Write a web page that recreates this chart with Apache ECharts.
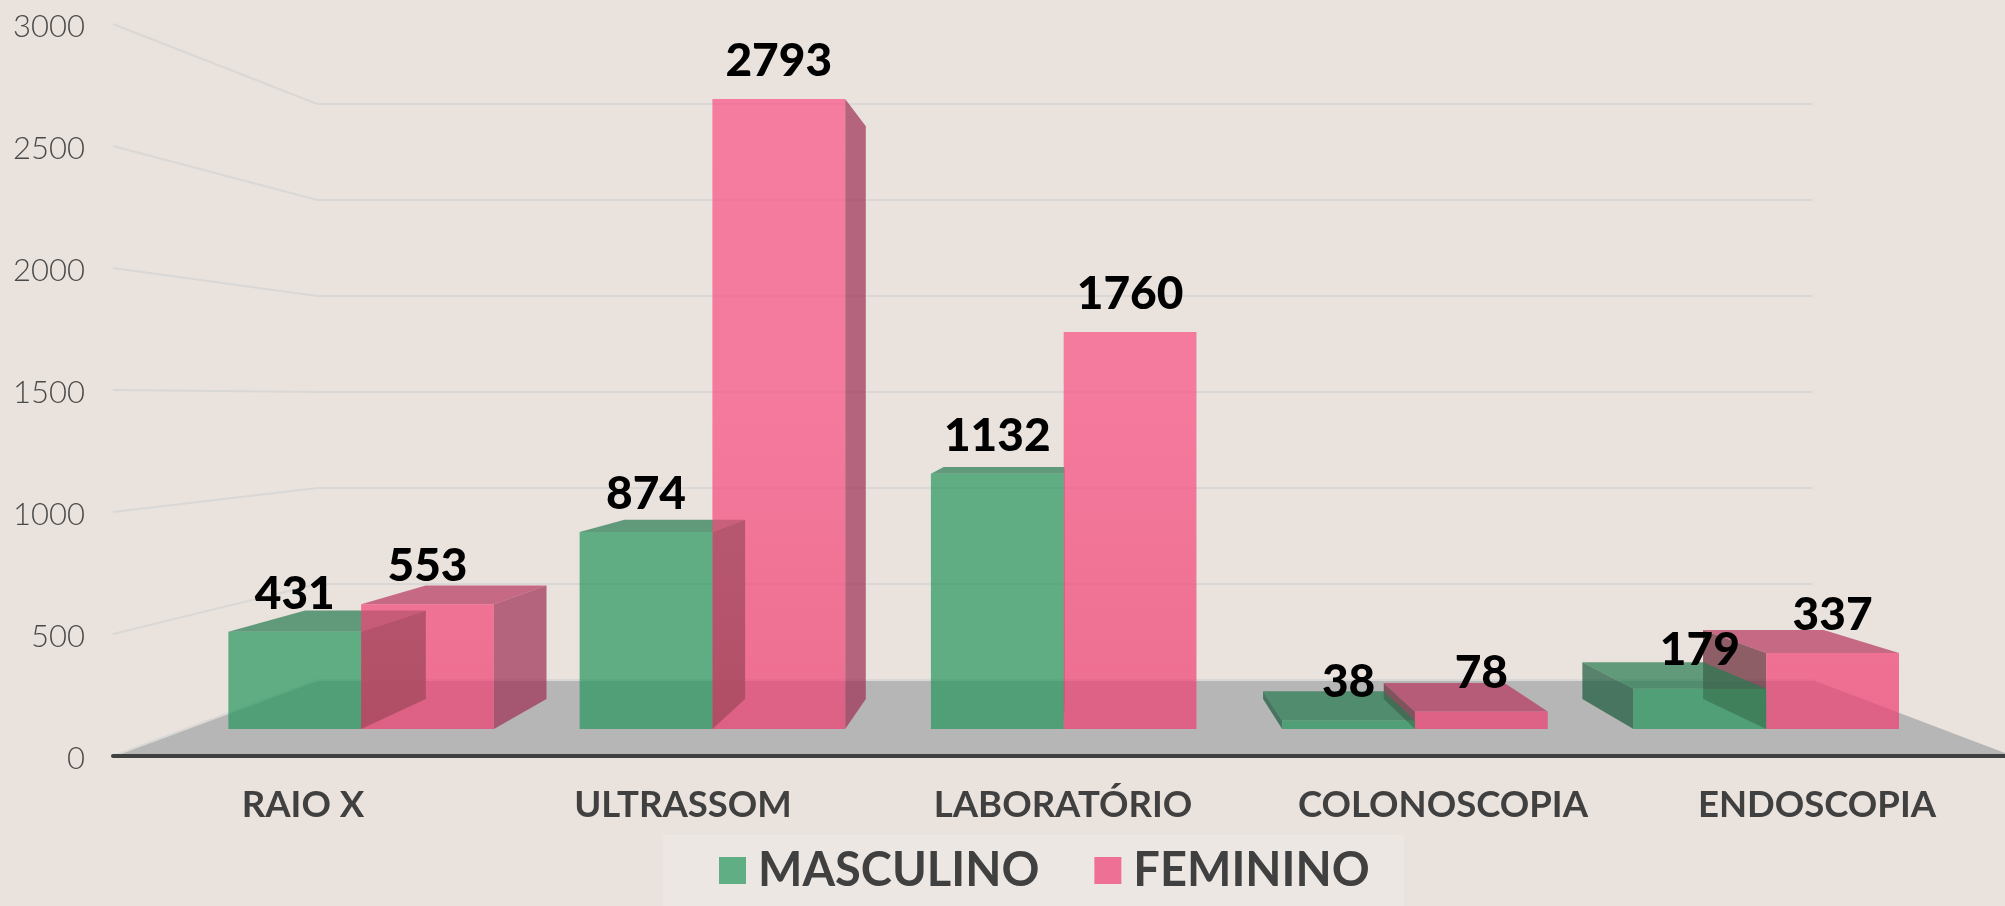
<!DOCTYPE html>
<html>
<head>
<meta charset="utf-8">
<title>Exames por sexo</title>
<style>
html, body { margin: 0; padding: 0; background: #eae2dc; }
#chart { width: 2005px; height: 906px; }
</style>
<script src="https://cdn.jsdelivr.net/npm/echarts@6/dist/echarts.min.js"></script>
</head>
<body>
<div id="chart"></div>
<script>
var categories = ['RAIO X', 'ULTRASSOM', 'LABORATÓRIO', 'COLONOSCOPIA', 'ENDOSCOPIA'];
var masculino = [431, 874, 1132, 38, 179];
var feminino = [553, 2793, 1760, 78, 337];
var ticks = [0, 500, 1000, 1500, 2000, 2500, 3000];

// perspective of the old 3D column chart
var VP = [1072, 399];
var T_BAR_FRONT = 0.9244;
var T_BAR_BACK = 0.8403;
var T_WALL = 0.787;
var BAR_SHARE = 0.378;

var GREEN = {
    front: 'rgba(37,150,93,0.7)',
    top: 'rgba(39,123,81,0.7)',
    sideRight: 'rgba(20,115,70,0.92)',
    sideLeft: 'rgba(25,90,60,0.7)'
};
var PINK = {
    front: 'rgba(240,61,114,0.7)',
    top: 'rgba(183,54,94,0.7)',
    sideRight: 'rgba(158,47,84,0.7)',
    sideLeft: 'rgba(111,49,63,0.75)'
};

function project(p, t) {
    return [VP[0] + (p[0] - VP[0]) * t, VP[1] + (p[1] - VP[1]) * t];
}

function poly(points, fill, z2) {
    return { type: 'polygon', silent: true, z2: z2, shape: { points: points }, style: { fill: fill, stroke: null } };
}

// floor
function renderFloor(params, api) {
    var cs = params.coordSys;
    var l = [cs.x, cs.y + cs.height];
    var r = [cs.x + cs.width, cs.y + cs.height];
    return poly([l, r, project(r, T_WALL), project(l, T_WALL)], '#b6b6b6', 0);
}

// lines on the side wall and back wall
function renderGrid(params, api) {
    var cs = params.coordSys;
    var y = api.coord([0, api.value(1)])[1];
    var l = [cs.x, y];
    var r = [cs.x + cs.width, y];
    return {
        type: 'polyline',
        silent: true,
        z2: 1,
        shape: { points: [l, project(l, T_WALL), project(r, T_WALL)] },
        style: { fill: null, stroke: '#d9d8d6', lineWidth: 2 }
    };
}

function barRender(isPink) {
    var c = isPink ? PINK : GREEN;
    return function (params, api) {
        var i = api.value(0);
        var v = api.value(1);
        var center = api.coord([i, 0]);
        var top = api.coord([i, v]);
        var w = api.size([1, 0])[0] * BAR_SHARE;
        var x0 = isPink ? center[0] : center[0] - w;
        var x1 = isPink ? center[0] + w : center[0];
        var base = center[1];
        var yTop = top[1];
        // outer bar is painted first, the one nearer the middle stays in front
        var z = (center[0] < VP[0]) === isPink ? 20 : 10;
        var children = [];

        var fl = project([x0, base], T_BAR_FRONT), fr = project([x1, base], T_BAR_FRONT);
        var tl = project([x0, yTop], T_BAR_FRONT), tr = project([x1, yTop], T_BAR_FRONT);
        var bfl = project([x0, base], T_BAR_BACK), bfr = project([x1, base], T_BAR_BACK);
        var btl = project([x0, yTop], T_BAR_BACK), btr = project([x1, yTop], T_BAR_BACK);

        if (x1 < VP[0]) {
            children.push(poly([fr, tr, btr, bfr], c.sideRight, z));
        } else if (x0 > VP[0]) {
            children.push(poly([fl, tl, btl, bfl], c.sideLeft, z));
        }
        if (yTop > VP[1]) {
            children.push(poly([tl, tr, btr, btl], c.top, z + 1));
        }
        var front = poly([fl, fr, tr, tl], c.front, z + 2);
        if (isPink) {
            // tall pink bars get lighter towards the top
            front.style.fill = new echarts.graphic.LinearGradient(0, project([0, 24], T_BAR_FRONT)[1], 0, fl[1], [
                { offset: 0, color: 'rgba(250,80,134,0.7)' },
                { offset: 0.5, color: 'rgba(249,78,130,0.7)' },
                { offset: 1, color: 'rgba(238,60,112,0.7)' }
            ], true);
        }
        children.push(front);
        children.push({
            type: 'text',
            silent: true,
            z2: 100,
            style: {
                text: String(v),
                x: (tl[0] + tr[0]) / 2,
                y: tl[1] - 38,
                textAlign: 'center',
                textVerticalAlign: 'middle',
                font: '900 46px Lato',
                fill: '#000000'
            }
        });
        return { type: 'group', children: children };
    };
}

function pairs(values) {
    var out = [];
    for (var i = 0; i < values.length; i++) {
        out.push([i, values[i]]);
    }
    return out;
}

var xData = [];
for (var i = 0; i < categories.length; i++) {
    xData.push(categories[i]);
}
// last label sits a bit left of its slot in the original
xData[4] = { value: categories[4], textStyle: { padding: [0, 12, 0, 0] } };

var chart = echarts.init(document.getElementById('chart'));
chart.setOption({
    animation: false,
    backgroundColor: '#eae2dc',
    grid: { left: 113, width: 1900, top: 24, bottom: 150, containLabel: false, outerBoundsMode: 'none' },
    legend: {
        data: ['MASCULINO', 'FEMININO'],
        left: 663,
        top: 835,
        orient: 'horizontal',
        padding: [12, 34, 12, 56],
        backgroundColor: '#ece7e3',
        icon: 'rect',
        itemWidth: 27,
        itemHeight: 27,
        itemGap: 55,
        selectedMode: false,
        textStyle: { fontFamily: 'Lato', fontWeight: 'bold', fontSize: 47, color: '#404040', padding: [2, 0, 0, 7] }
    },
    xAxis: {
        type: 'category',
        z: 5,
        data: xData,
        axisTick: { show: false },
        axisLine: { lineStyle: { color: '#404040', width: 4 } },
        axisLabel: { interval: 0, margin: 31, fontFamily: 'Lato', fontWeight: 'bold', fontSize: 36.5, color: '#404040' },
        splitLine: { show: false }
    },
    yAxis: {
        type: 'value',
        min: 0,
        max: 3000,
        interval: 500,
        axisLine: { show: false },
        axisTick: { show: false },
        splitLine: { show: false },
        axisLabel: {
            margin: 28,
            fontFamily: 'Lato',
            fontWeight: 300,
            fontSize: 31,
            color: '#4a4a4a',
            verticalAlign: 'top',
            lineHeight: 6,
            formatter: function (v) { return String(v); }
        }
    },
    series: [
        { type: 'custom', name: 'piso', silent: true, renderItem: renderFloor, data: [[0, 0]], z: 1 },
        { type: 'custom', name: 'grade', silent: true, renderItem: renderGrid, data: ticks.map(function (t) { return [0, t]; }), z: 1 },
        { type: 'custom', name: 'MASCULINO', silent: true, renderItem: barRender(false), data: pairs(masculino), itemStyle: { color: '#5fae84' }, z: 2 },
        { type: 'custom', name: 'FEMININO', silent: true, renderItem: barRender(true), data: pairs(feminino), itemStyle: { color: '#ee7095' }, z: 2 }
    ]
});
</script>
</body>
</html>
